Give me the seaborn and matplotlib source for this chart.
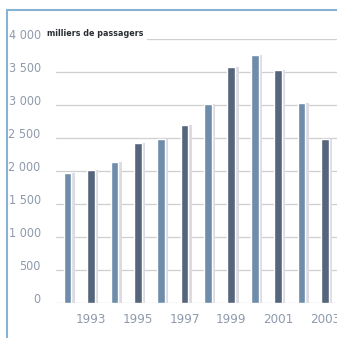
import matplotlib
matplotlib.use("Agg")
import matplotlib.pyplot as plt
import seaborn as sns
import pandas as pd
from matplotlib.lines import Line2D
from matplotlib.transforms import ScaledTranslation
from matplotlib import patheffects as pe

sns.set_theme(style="white")
plt.rcParams['font.family'] = ['DejaVu Sans']
plt.rcParams['font.stretch'] = 'condensed'

# Passagers (milliers) par année
years = [1992, 1993, 1994, 1995, 1996, 1997, 1998, 1999, 2000, 2001, 2002, 2003]
passengers = [1970, 2020, 2130, 2420, 2490, 2690, 3020, 3580, 3760, 3530, 3030, 2480]
ytick_values = [0, 500, 1000, 1500, 2000, 2500, 3000, 3500, 4000]
ytick_labels = ["0", "500", "1 000", "1 500", "2 000", "2 500", "3 000", "3 500", "4 000"]
xtick_labels = ["", "1993", "", "1995", "", "1997", "", "1999", "", "2001", "", "2003"]
unit_label = "milliers de passagers"

light_bar = "#6f8cab"
dark_bar = "#55667c"
label_color = "#8e9aac"

df = pd.DataFrame({"year": [str(y) for y in years], "value": passengers})

fig = plt.figure(figsize=(3.37, 3.38), dpi=100)
ax = fig.add_axes([0.166, 0.1036, 0.834, 0.781])

palette = [light_bar if i % 2 == 0 else dark_bar for i in range(len(years))]
sns.barplot(data=df, x="year", y="value", hue="year", palette=palette,
            legend=False, width=0.33, ax=ax, saturation=1, zorder=3)

for bar in ax.patches:
    bar.set_path_effects([
        pe.SimplePatchShadow(offset=(2.5, 0), shadow_rgbFace="#dcdbe3", alpha=1.0),
        pe.Normal(),
    ])

ax.set_xlim(-0.5, 11.52)
ax.set_ylim(0, 4000)
for s in ax.spines.values():
    s.set_visible(False)

# horizontal rules; the top one starts after the unit caption
for v in ytick_values:
    start = 0.325 if v == 4000 else 0.0
    ax.axhline(v, xmin=start, xmax=1, color="#cfcfcf", lw=0.9, zorder=1)

ax.set_yticks(ytick_values)
ax.set_yticklabels(ytick_labels, fontsize=9, color=label_color)
ax.set_xticks(range(len(years)))
ax.set_xticklabels(xtick_labels, fontsize=9.5, color=label_color)
ax.tick_params(axis="y", length=0, pad=11)
ax.tick_params(axis="x", length=0, pad=7)
ax.set_xlabel("")
ax.set_ylabel("")

shift = ScaledTranslation(0, 5 / 100, fig.dpi_scale_trans)
for lab in ax.get_yticklabels():
    lab.set_transform(lab.get_transform() + shift)

fig.text(47 / 337, 1 - 34 / 338, unit_label, fontsize=6.4, fontweight="bold",
         color="#2a2e33", ha="left", va="center")

# blue frame on the left and top
frame_color = "#86b3d3"
fig.add_artist(Line2D([7 / 337, 7 / 337], [0, 1 - 10 / 338], color=frame_color, lw=1.5))
fig.add_artist(Line2D([7 / 337, 1], [1 - 10 / 338, 1 - 10 / 338], color=frame_color, lw=1.5))

fig.savefig("out.png", dpi=100, facecolor="white")
